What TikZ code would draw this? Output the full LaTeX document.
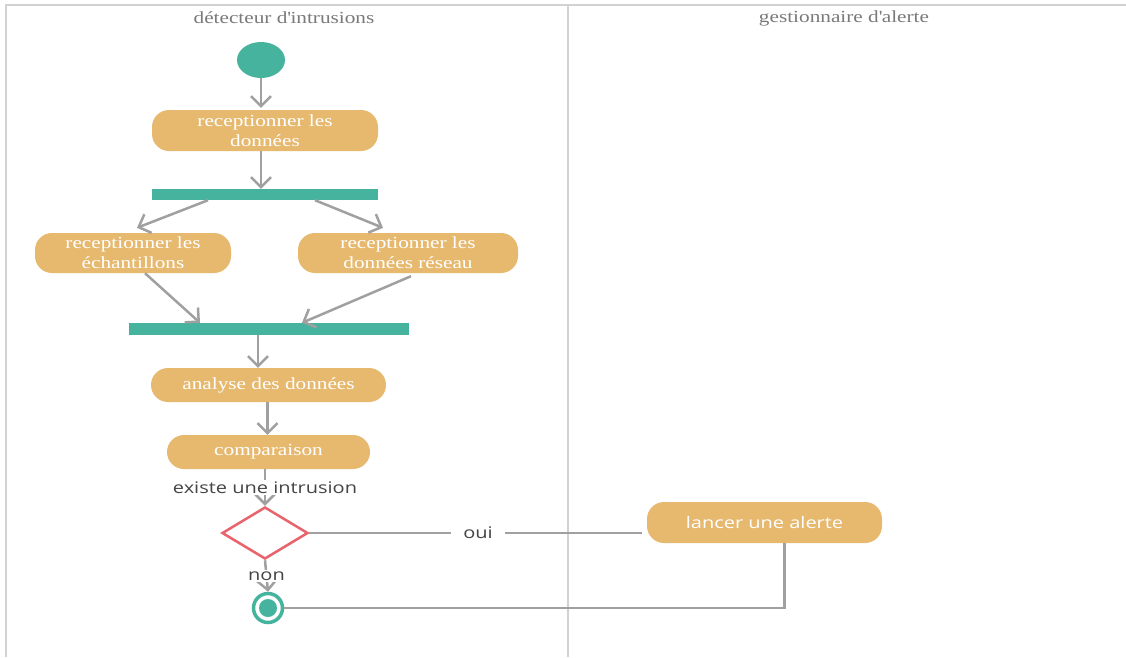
\documentclass[tikz,border=0pt]{standalone}
\usepackage{fontspec}
\setmainfont[FakeStretch=1.25]{Liberation Serif}
\newfontfamily\labelfont[FakeStretch=1.25]{Open Sans}
\usetikzlibrary{arrows.meta,shapes.geometric,calc}
\definecolor{teal}{HTML}{45B39D}
\definecolor{sand}{HTML}{E6B96F}
\definecolor{rose}{HTML}{E8636B}
\definecolor{wire}{HTML}{A0A0A0}
\definecolor{lane}{HTML}{D2D2D2}
\definecolor{title}{HTML}{7A7A7A}
\definecolor{txt}{HTML}{444444}
\tikzset{
  action/.style={rectangle, rounded corners=17pt, fill=sand, text=white,
    font=\fontsize{17}{20}\selectfont, align=center, inner sep=0pt},
  bar/.style={fill=teal, inner sep=0pt},
  flow/.style={draw=wire, line width=2.5pt,
    -{Straight Barb[length=10pt,width=20pt,line width=2.5pt]}},
  plain/.style={draw=wire, line width=2.5pt},
  tag/.style={fill=white, text=txt, font=\labelfont\fontsize{16}{18}\selectfont, inner sep=2pt},
  lanetitle/.style={text=title, font=\fontsize{17}{20}\selectfont},
}
\begin{document}
\begin{tikzpicture}[x=1pt,y=-1pt]
\useasboundingbox (0,0) rectangle (1126,657);
\fill[white] (0,0) rectangle (1126,657);

% swimlanes
\draw[lane, line width=2pt] (1126,5) -- (6,5) -- (6,657);
\draw[lane, line width=1.5pt] (568,5) -- (568,657);
\node[lanetitle] (t1) at (284,18) {détecteur d\textquotesingle intrusions};
\node[lanetitle] (t2) at (844,18) {gestionnaire d\textquotesingle alerte};

% nodes
\node[ellipse, fill=teal, minimum width=48pt, minimum height=36pt, inner sep=0pt] (start) at (261,60) {};
\node[action, minimum width=226pt, minimum height=41pt] (a1) at (265,130.5) {receptionner les\\données};
\node[bar, minimum width=226pt, minimum height=11pt] (bar1) at (265,194.5) {};
\node[action, minimum width=196pt, minimum height=40pt] (a2) at (133,253) {receptionner les\\échantillons};
\node[action, minimum width=220pt, minimum height=40pt] (a3) at (408,253) {receptionner les\\données réseau};
\node[bar, minimum width=280pt, minimum height=12pt] (bar2) at (269,329) {};
\node[action, minimum width=235pt, minimum height=34pt] (a4) at (268.5,385) {analyse des données};
\node[action, minimum width=203pt, minimum height=34pt] (a5) at (268.5,452) {comparaison};
\node[diamond, draw=rose, line width=2.5pt, fill=white, minimum width=86pt, minimum height=52pt, inner sep=0pt] (dec) at (265,533) {};
\node[action, font=\labelfont\fontsize{16}{18}\selectfont, minimum width=235pt, minimum height=41pt] (alert) at (764.5,522.5) {lancer une alerte};
\node[circle, draw=teal, line width=3.5pt, fill=white, minimum size=29pt, inner sep=0pt] (end) at (268,608) {};
\fill[teal] (end.center) circle (9pt);

% control flow
\draw[flow, shorten >=2pt] (start.south) -- (start.south |- a1.north);
\draw[flow] ([xshift=-4pt]a1.south) -- ([xshift=-4pt]a1.south |- bar1.north);
\draw[flow] ([xshift=-57pt]bar1.south) -- ([xshift=4pt,yshift=5pt]a2.north);
\draw[flow] ([xshift=50pt]bar1.south) -- ([xshift=-25pt,yshift=5pt]a3.north);
\draw[flow] ([xshift=12pt]a2.south) -- ([xshift=-69pt]bar2.north);
\draw[flow] ([xshift=3pt,yshift=-3pt]a3.south) -- ([xshift=33pt]bar2.north);
\draw[flow] ([xshift=-11pt]bar2.south) -- ([xshift=-11pt]bar2.south |- a4.north);
\draw[flow] ([xshift=-1pt]a4.south) -- ([xshift=-1pt]a4.south |- a5.north);
\draw[flow] ([xshift=-3.5pt]a5.south) -- node[tag] (q) {existe une intrusion} (dec.north);
\draw[flow] (dec.south) -- node[tag] (n) {non} (end.north);
\draw[plain, shorten >=5pt] (dec.east) -- node[tag, inner xsep=12pt] (y) {oui} (dec.east -| alert.west);
\draw[plain] ([xshift=20pt]alert.south) -- ([xshift=20pt]alert.south |- end.east) -- (end.east);
\end{tikzpicture}
\end{document}
